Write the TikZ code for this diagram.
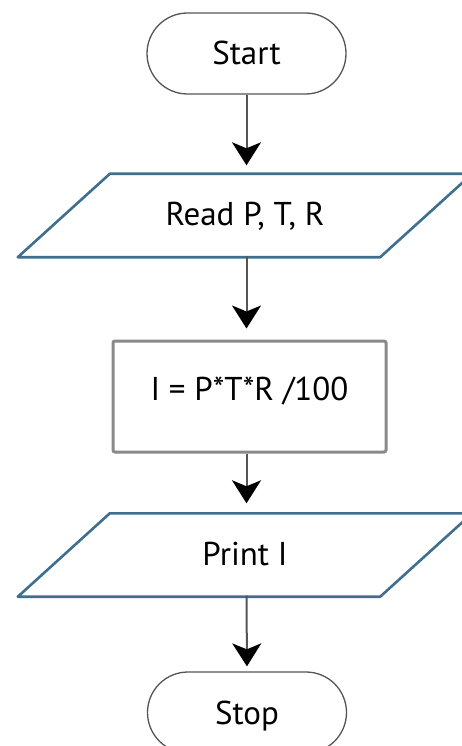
\documentclass[tikz,border=0pt]{standalone}
\usepackage{fontspec}
\setmainfont{PT Sans}
\usetikzlibrary{arrows.meta,shapes.misc}

\definecolor{edgegrey}{HTML}{555555}
\definecolor{iobblue}{HTML}{3E6F8F}
\definecolor{boxgrey}{HTML}{8A8A8A}

\tikzset{
  flowtext/.style={font=\fontsize{33}{40}\selectfont, text height=23pt, text depth=0pt, inner sep=0pt},
  terminal/.style={flowtext, draw=edgegrey, line width=1.3pt, rounded rectangle,
                   minimum width=199pt, minimum height=81pt},
  iobody/.style={flowtext, minimum width=270pt, minimum height=83pt},
  iooutline/.style={draw=iobblue, line width=2.6pt, line join=round},
  procbox/.style={flowtext, text depth=15pt, draw=boxgrey, line width=3pt,
                  rounded corners=2pt, minimum width=273pt, minimum height=111pt},
  flowarrow/.style={draw=edgegrey, line width=2pt,
                    -{Stealth[length=23pt, width=29pt, inset=6pt, black]}}
}

\begin{document}
\begin{tikzpicture}[x=1pt, y=-1pt]
  \clip (0,0) rectangle (462,746);
  \fill[white] (0,0) rectangle (462,746);

  % terminals, input/output blocks and the process box
  \node[terminal] (start) at (246.5,53.5) {Start};
  \node[iobody]   (read)  at (245,214)    {Read P, T, R};
  \node[procbox]  (calc)  at (249.5,396.5) {I = P*T*R /100};
  \node[iobody]   (print) at (245,554)    {Print I};
  \node[terminal] (stop)  at (247,712.5)  {Stop};

  % slanted outlines of the input/output blocks
  \draw[iooutline] ([xshift=-92pt,yshift=-1.5pt]read.south west) -- ([yshift=-1.5pt]read.south east)
    -- ([xshift=92pt,yshift=-1.5pt]read.north east) -- ([yshift=-1.5pt]read.north west) -- cycle;
  \draw[iooutline] ([xshift=-92pt,yshift=-1pt]print.south west) -- ([yshift=-1pt]print.south east)
    -- ([xshift=92pt,yshift=-1pt]print.north east) -- ([yshift=-1pt]print.north west) -- cycle;

  % connectors
  \draw[flowarrow, shorten >=7pt]  (start.south) -- (start.south |- read.north);
  \draw[flowarrow, shorten >=11pt] (read.south -| start.south) -- (start.south |- calc.north);
  \draw[flowarrow, shorten >=9pt]  (calc.south -| start.south) -- (start.south |- print.north);
  \draw[flowarrow, shorten >=5pt]  (print.south -| start.south) -- (stop.north);
\end{tikzpicture}
\end{document}
